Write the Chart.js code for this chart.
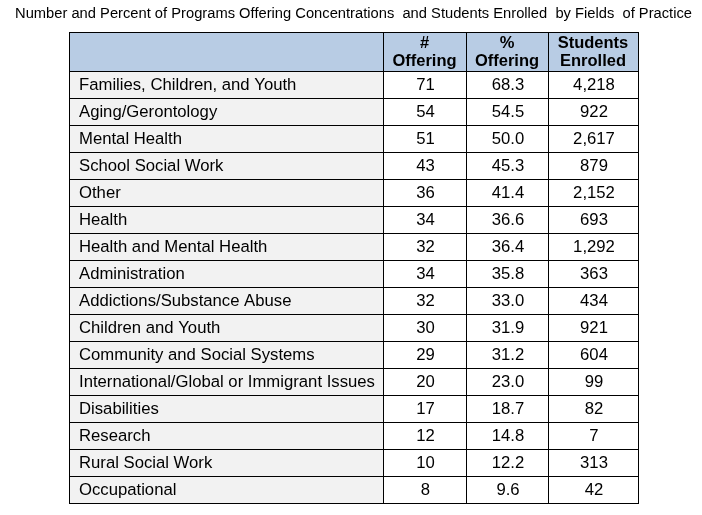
<!DOCTYPE html>
<html lang="en">
<head>
  <meta charset="UTF-8">
  <title>Fields of Practice</title>
  <script src="https://cdn.jsdelivr.net/npm/chart.js"></script>
  <style>
    body { margin: 0; background: #fff; }
    canvas { display: block; }
  </style>
</head>
<body>
  <canvas id="tableChart" width="702" height="515"></canvas>
  <script>
    const title = 'Number and Percent of Programs Offering Concentrations  and Students Enrolled  by Fields  of Practice';
    const columnHeaders = [['', ''], ['#', 'Offering'], ['%', 'Offering'], ['Students', 'Enrolled']];
    const fields = [
      'Families, Children, and Youth', 'Aging/Gerontology', 'Mental Health', 'School Social Work',
      'Other', 'Health', 'Health and Mental Health', 'Administration',
      'Addictions/Substance Abuse', 'Children and Youth', 'Community and Social Systems',
      'International/Global or Immigrant Issues', 'Disabilities', 'Research', 'Rural Social Work', 'Occupational'
    ];
    const numOffering = [71, 54, 51, 43, 36, 34, 32, 34, 32, 30, 29, 20, 17, 12, 10, 8];
    const pctOffering = [68.3, 54.5, 50.0, 45.3, 41.4, 36.6, 36.4, 35.8, 33.0, 31.9, 31.2, 23.0, 18.7, 14.8, 12.2, 9.6];
    const studentsEnrolled = [4218, 922, 2617, 879, 2152, 693, 1292, 363, 434, 921, 604, 99, 82, 7, 313, 42];

    // layout: column edges in x-scale units (1 unit = 1px here)
    const colEdges = [0, 314, 397, 479, 569];
    const headerHeight = 39;
    const FONT = '"Liberation Sans", Arial, sans-serif';

    const columns = [
      fields,
      numOffering.map(v => String(v)),
      pctOffering.map(v => v.toFixed(1)),
      studentsEnrolled.map(v => v.toLocaleString('en-US'))
    ];
    const cellColors = ['#F2F2F2', '#FFFFFF', '#FFFFFF', '#FFFFFF'];

    const datasets = columns.map((col, c) => ({
      label: columnHeaders[c].join(' '),
      data: fields.map(() => [colEdges[c], colEdges[c + 1]]),
      backgroundColor: cellColors[c],
      borderWidth: 0,
      grouped: false,
      barPercentage: 1,
      categoryPercentage: 1
    }));

    const tableText = {
      id: 'tableText',
      afterDraw(chart) {
        const ctx = chart.ctx;
        const xs = chart.scales.x, ys = chart.scales.y;
        const area = chart.chartArea;
        const top = Math.round(area.top) - headerHeight;
        const px = colEdges.map(v => Math.round(xs.getPixelForValue(v)));

        // header
        ctx.save();
        ctx.fillStyle = '#B8CCE4';
        ctx.fillRect(px[0], top, px[4] - px[0], headerHeight);
        ctx.strokeStyle = '#000';
        ctx.lineWidth = 1;
        ctx.beginPath();
        ctx.moveTo(px[0], top + 0.5);
        ctx.lineTo(px[4] + 1, top + 0.5);
        px.forEach(x => {
          ctx.moveTo(x + 0.5, top);
          ctx.lineTo(x + 0.5, Math.round(area.top));
        });
        ctx.stroke();

        ctx.fillStyle = '#000';
        ctx.textAlign = 'center';
        ctx.textBaseline = 'middle';
        ctx.font = 'bold 16.5px ' + FONT;
        columnHeaders.forEach((lines, c) => {
          const cx = (px[c] + px[c + 1]) / 2;
          ctx.fillText(lines[0], cx, top + 11);
          ctx.fillText(lines[1], cx, top + 29);
        });

        // body cells
        ctx.font = '16.7px ' + FONT;
        columns.forEach((col, c) => {
          col.forEach((txt, r) => {
            const y = ys.getPixelForValue(r) + 0.5;
            if (c === 0) {
              ctx.textAlign = 'left';
              ctx.fillText(txt, px[0] + 10, y);
            } else {
              ctx.textAlign = 'center';
              ctx.fillText(txt, (px[c] + px[c + 1]) / 2 + 1, y);
            }
          });
        });

        // title, squeezed to the width of the original
        ctx.font = '15.5px ' + FONT;
        ctx.textAlign = 'left';
        const w = ctx.measureText(title).width;
        const target = 677;
        ctx.translate(15, 14);
        ctx.scale(target / w, 1);
        ctx.fillText(title, 0, 0);
        ctx.restore();
      }
    };

    new Chart(document.getElementById('tableChart'), {
      type: 'bar',
      data: { labels: fields, datasets },
      options: {
        indexAxis: 'y',
        responsive: false,
        animation: false,
        layout: { padding: { left: 69, right: 64, top: 71, bottom: 12 } },
        plugins: { legend: { display: false }, tooltip: { enabled: false }, title: { display: false } },
        scales: {
          x: {
            type: 'linear',
            min: colEdges[0],
            max: colEdges[colEdges.length - 1],
            afterBuildTicks: axis => { axis.ticks = colEdges.map(v => ({ value: v })); },
            ticks: { display: false },
            grid: { color: '#000', lineWidth: 1, drawTicks: false, z: 1 },
            border: { color: '#000', z: 1 }
          },
          y: {
            type: 'category',
            offset: true,
            ticks: { display: false },
            grid: { offset: true, color: '#000', lineWidth: 1, drawTicks: false, z: 1 },
            border: { color: '#000', z: 1 }
          }
        }
      },
      plugins: [tableText]
    });
  </script>
</body>
</html>
